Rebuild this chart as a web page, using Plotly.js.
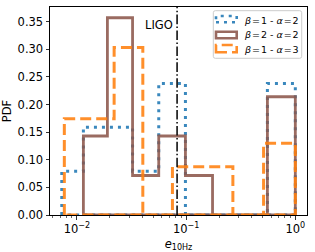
<!DOCTYPE html>
<html>
<head>
<meta charset="utf-8">
<script src="https://cdn.plot.ly/plotly-3.0.1.min.js"></script>
<style>html,body{margin:0;padding:0;background:#fff}#chart{width:315px;height:252px}</style>
</head>
<body>
<div id="chart"></div>
<script>
// Bin edges (e_10Hz) and PDF values
const blueEdges  = [0.00726, 0.01145, 0.0323, 0.0561, 0.0985, 0.555, 1.0];
const blueValues = [0.079, 0.159, 0.079, 0.238, 0.0, 0.238];
const brownEdges  = [0.01145, 0.0190, 0.0323, 0.0561, 0.0985, 0.1745, 0.555, 1.0];
const brownValues = [0.143, 0.357, 0.0715, 0.143, 0.0715, 0.0, 0.214];
const orangeEdges  = [0.00766, 0.0219, 0.0401, 0.0749, 0.268, 0.512, 1.0];
const orangeValues = [0.174, 0.303, 0.0, 0.0875, 0.0, 0.130];
const seriesNames = [
  '<i>β</i>\u200A=\u200A1 - <i>α</i>\u200A=\u200A2',
  '<i>β</i>\u200A=\u200A2 - <i>α</i>\u200A=\u200A2',
  '<i>β</i>\u200A=\u200A1 - <i>α</i>\u200A=\u200A3'
];
const ligoValue = [0.0826];
const ligoLabel = ['LIGO'];
const xTickVals = [0.01, 0.1, 1];
const xTickText = ['10<sup>−2</sup>', '10<sup>−1</sup>', '10<sup>0</sup>'];
const yTickVals = [0, 0.05, 0.10, 0.15, 0.20, 0.25, 0.30, 0.35];

function stepOutline(edges, vals) {
  // closed step polygon (like matplotlib histtype='step'), drawn with hv line shape
  const x = [edges[0]];
  const y = [0];
  for (let i = 0; i < vals.length; i++) { x.push(edges[i]); y.push(vals[i]); }
  x.push(edges[edges.length - 1]); y.push(0);
  x.push(edges[0]); y.push(0);
  return {x, y};
}

const minor = [];
for (let d = -3; d <= 0; d++) {
  for (let m = 2; m <= 9; m++) {
    const v = m * Math.pow(10, d);
    if (v > 0.0055 && v < 1.3) minor.push(v);
  }
}

const styles = [
  {color: '#1f77b4', dash: '3px,5px', width: 3},
  {color: '#8c564b', dash: 'solid', width: 2.8},
  {color: '#ff7f0e', dash: '11px,5px', width: 3}
];
const data = [[blueEdges, blueValues], [brownEdges, brownValues], [orangeEdges, orangeValues]].map((d, i) => {
  const o = stepOutline(d[0], d[1]);
  return {
    type: 'scatter', mode: 'lines', x: o.x, y: o.y, name: seriesNames[i],
    line: {shape: 'hv', color: styles[i].color, dash: styles[i].dash, width: styles[i].width},
    opacity: 0.88, showlegend: false
  };
});

// Legend drawn like matplotlib (patch outlines), in paper coordinates
const legBox = {x0: 0.6354, x1: 0.9794, y0: 0.7534, y1: 0.9822};
const rx = 2 / 257, ry = 2 / 208;
const boxPath = `M${legBox.x0 + rx},${legBox.y0} L${legBox.x1 - rx},${legBox.y0} Q${legBox.x1},${legBox.y0} ${legBox.x1},${legBox.y0 + ry} ` +
  `L${legBox.x1},${legBox.y1 - ry} Q${legBox.x1},${legBox.y1} ${legBox.x1 - rx},${legBox.y1} ` +
  `L${legBox.x0 + rx},${legBox.y1} Q${legBox.x0},${legBox.y1} ${legBox.x0},${legBox.y1 - ry} ` +
  `L${legBox.x0},${legBox.y0 + ry} Q${legBox.x0},${legBox.y0} ${legBox.x0 + rx},${legBox.y0} Z`;
const legRows = [
  {y0: 0.9264, y1: 0.9567, ty: 0.9375},
  {y0: 0.8495, y1: 0.8813, ty: 0.8654},
  {y0: 0.7822, y1: 0.8173, ty: 0.7966}
];
const legShapes = [{
  type: 'path', xref: 'paper', yref: 'paper', path: boxPath,
  fillcolor: 'rgba(255,255,255,0.8)', line: {color: '#cccccc', width: 1}
}].concat(legRows.map((r, i) => ({
  type: 'rect', xref: 'paper', yref: 'paper', x0: 0.6459, x1: 0.7265, y0: r.y0, y1: r.y1,
  fillcolor: 'rgba(0,0,0,0)', opacity: 0.88,
  line: {color: styles[i].color, dash: styles[i].dash, width: 2.6}
})));
const legAnn = legRows.map((r, i) => ({
  x: 0.7483, xref: 'paper', y: r.ty, yref: 'paper', text: seriesNames[i],
  showarrow: false, xanchor: 'left', yanchor: 'middle', font: {size: 9.5, color: '#000'}
}));

const layout = {
  width: 315, height: 252,
  margin: {l: 50, r: 8, t: 7, b: 37},
  paper_bgcolor: '#fff', plot_bgcolor: '#fff',
  font: {family: 'DejaVu Sans', size: 11.5, color: '#000'},
  showlegend: false,
  xaxis: {
    type: 'log', range: [-2.247, 0.107],
    tickmode: 'array', tickvals: xTickVals, ticktext: xTickText,
    ticks: 'outside', ticklen: 3.5, tickwidth: 0.8, tickcolor: '#000',
    minor: {tickmode: 'array', tickvals: minor, ticks: 'outside', ticklen: 2, tickwidth: 0.6, tickcolor: '#000', showgrid: false},
    showgrid: false, zeroline: false,
    showline: true, linecolor: '#000', linewidth: 1, mirror: true,
    title: {text: '<i>e</i><sub>10Hz</sub>', standoff: 4, font: {size: 11.5}}
  },
  yaxis: {
    range: [0, 0.3765],
    tickmode: 'array', tickvals: yTickVals, tickformat: '.2f',
    ticks: 'outside', ticklen: 3.5, tickwidth: 0.8, tickcolor: '#000',
    showgrid: false, zeroline: false,
    showline: true, linecolor: '#000', linewidth: 1, mirror: true,
    title: {text: 'PDF', standoff: 3, font: {size: 11.5}}
  },
  shapes: ligoValue.map(v => ({
    type: 'line', xref: 'x', yref: 'paper', x0: v, x1: v, y0: 0, y1: 1,
    line: {color: '#000', width: 1.5, dash: '9.6px,2.4px,1.5px,2.4px'}
  })).concat(legShapes),
  annotations: ligoValue.map((v, i) => ({
    x: Math.log10(v), xref: 'x', y: 0.913, yref: 'paper', text: ligoLabel[i],
    showarrow: false, xanchor: 'right', yanchor: 'middle', xshift: -2,
    font: {size: 11.5, color: '#000'}
  })).concat(legAnn)
};

Plotly.newPlot('chart', data, layout, {displayModeBar: false, staticPlot: true});
</script>
</body>
</html>
